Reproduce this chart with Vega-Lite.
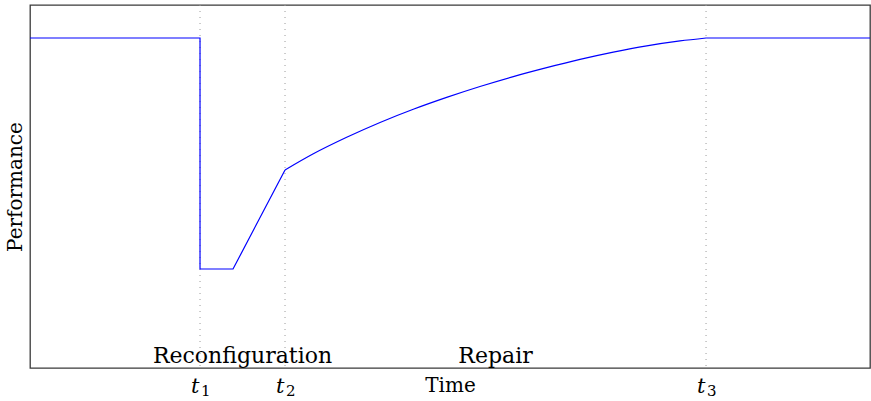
{
  "$schema": "https://vega.github.io/schema/vega-lite/v6.json",
  "width": 840,
  "height": 363,
  "autosize": {"type": "none"},
  "padding": {"left": 30, "top": 5, "right": 1, "bottom": 33},
  "background": "white",
  "config": {
    "view": {"stroke": "#3a3a3a", "strokeWidth": 1.3},
    "font": "DejaVu Serif"
  },
  "datasets": {
    "curve": [
      {"segment": "outage", "time": 0, "performance": 1.0},
      {"segment": "outage", "time": 2.024, "performance": 1.0},
      {"segment": "outage", "time": 2.024, "performance": 0.30},
      {"segment": "outage", "time": 2.417, "performance": 0.30},
      {"segment": "outage", "time": 3.036, "performance": 0.600},
      {"segment": "recovery", "time": 3.036, "performance": 0.600},
      {"segment": "recovery", "time": 3.373, "performance": 0.649},
      {"segment": "recovery", "time": 3.770, "performance": 0.699},
      {"segment": "recovery", "time": 4.167, "performance": 0.744},
      {"segment": "recovery", "time": 4.563, "performance": 0.784},
      {"segment": "recovery", "time": 4.960, "performance": 0.820},
      {"segment": "recovery", "time": 5.357, "performance": 0.853},
      {"segment": "recovery", "time": 5.754, "performance": 0.883},
      {"segment": "recovery", "time": 6.151, "performance": 0.910},
      {"segment": "recovery", "time": 6.548, "performance": 0.935},
      {"segment": "recovery", "time": 6.944, "performance": 0.957},
      {"segment": "recovery", "time": 7.342, "performance": 0.976},
      {"segment": "recovery", "time": 7.738, "performance": 0.991},
      {"segment": "recovery", "time": 8.048, "performance": 1.0},
      {"segment": "steady", "time": 8.048, "performance": 1.0},
      {"segment": "steady", "time": 10, "performance": 1.0}
    ],
    "marks": [
      {"time": 2.024, "index": "1"},
      {"time": 3.036, "index": "2"},
      {"time": 8.048, "index": "3"}
    ],
    "phases": [
      {"mid": 2.53, "phase": "Reconfiguration"},
      {"mid": 5.542, "phase": "Repair"}
    ]
  },
  "layer": [
    {
      "data": {"name": "marks"},
      "mark": {"type": "rule", "color": "#9a9a9a", "strokeWidth": 1, "strokeDash": [1, 5]},
      "encoding": {
        "x": {
          "field": "time",
          "type": "quantitative",
          "scale": {"domain": [0, 10], "nice": false, "zero": false},
          "axis": {
            "title": "Time",
            "values": [2.024, 3.036, 8.048],
            "labelExpr": "'t'",
            "labelFont": "DejaVu Serif",
            "labelFontStyle": "italic",
            "labelFontSize": 21,
            "labelColor": "black",
            "labelAlign": "right",
            "labelBaseline": "alphabetic",
            "labelOffset": -1,
            "labelPadding": 24,
            "ticks": false,
            "grid": false,
            "domain": false,
            "titleFont": "DejaVu Serif",
            "titleFontWeight": "normal",
            "titleFontSize": 20,
            "titleColor": "black",
            "titleY": 23,
            "titleBaseline": "alphabetic"
          }
        }
      }
    },
    {
      "data": {"name": "marks"},
      "mark": {"type": "text", "font": "DejaVu Serif", "fontSize": 15, "color": "black", "align": "left", "baseline": "alphabetic", "dx": 1},
      "encoding": {
        "x": {"field": "time", "type": "quantitative"},
        "y": {"datum": -0.085},
        "text": {"field": "index"}
      }
    },
    {
      "data": {"name": "curve"},
      "transform": [{"filter": "datum.segment !== 'recovery'"}],
      "mark": {"type": "line", "color": "#0000ff", "strokeWidth": 1.2, "interpolate": "linear"},
      "encoding": {
        "x": {"field": "time", "type": "quantitative"},
        "y": {
          "field": "performance",
          "type": "quantitative",
          "scale": {"domain": [0, 1.1], "nice": false, "zero": false},
          "axis": {
            "title": "Performance",
            "labels": false,
            "ticks": false,
            "grid": false,
            "domain": false,
            "titleFont": "DejaVu Serif",
            "titleFontWeight": "normal",
            "titleFontSize": 20,
            "titleColor": "black",
            "titleX": -15,
            "titleBaseline": "middle"
          }
        },
        "detail": {"field": "segment"}
      }
    },
    {
      "data": {"name": "curve"},
      "transform": [{"filter": "datum.segment === 'recovery'"}],
      "mark": {"type": "line", "color": "#0000ff", "strokeWidth": 1.2, "interpolate": "monotone"},
      "encoding": {
        "x": {"field": "time", "type": "quantitative"},
        "y": {"field": "performance", "type": "quantitative"}
      }
    },
    {
      "data": {"name": "phases"},
      "mark": {"type": "text", "font": "DejaVu Serif", "fontSize": 22, "color": "black", "baseline": "alphabetic", "align": "center"},
      "encoding": {
        "x": {"field": "mid", "type": "quantitative"},
        "y": {"datum": 0.016},
        "text": {"field": "phase"}
      }
    }
  ]
}
